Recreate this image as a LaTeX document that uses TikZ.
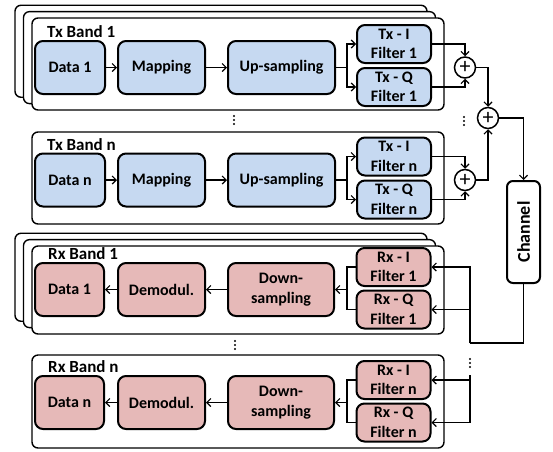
\documentclass[tikz,border=0pt]{standalone}
\usepackage{fontspec}
\setmainfont{Carlito}
\usetikzlibrary{arrows.meta}

\definecolor{txblue}{RGB}{198,217,241}
\definecolor{rxred}{RGB}{230,185,184}

\begin{document}
\begin{tikzpicture}[x=1pt, y=-1pt,
	font=\bfseries\fontsize{16}{19.5}\selectfont,
	>={Straight Barb[length=4pt,width=8pt]},
	band/.style={draw, line width=1.4pt, rounded corners=6pt, fill=white},
	block/.style={draw, line width=2pt, rounded corners=8pt, minimum height=53pt, align=center, inner sep=0pt},
	txblock/.style={block, fill=txblue},
	rxblock/.style={block, fill=rxred},
	filterbox/.style={minimum width=74pt, minimum height=38pt},
	sumnode/.style={draw, circle, line width=1.5pt, minimum size=21pt, inner sep=0pt, fill=white,
		font=\mdseries\fontsize{22}{22}\selectfont},
	link/.style={line width=1.2pt}]
\useasboundingbox (0,0) rectangle (553,451);

% stacked copies behind band 1
\foreach \s in {17,8.5}{
	\draw[band] (32-\s,18-\s*0.75) rectangle (444-\s,110-\s*0.75);
	\draw[band] (32-\s,246-\s*0.75) rectangle (444-\s,334-\s*0.75);
}

% transmitter bands
\foreach \b/\t/\c/\l in {1/18/67.5/37, n/132/180/150}{
	\draw[band] (32,\t) rectangle (444,\t+92);
	\node[anchor=base west, inner sep=0pt, font=\bfseries\fontsize{17}{19}\selectfont] (txlabel\b) at (47,\l) {Tx Band \b};
	\node[txblock, minimum width=70pt] (txdata\b) at (70,\c) {Data \b};
	\node[txblock, minimum width=87pt] (txmap\b) at (161.5,\c) {Mapping};
	\node[txblock, minimum width=107pt] (txup\b) at (281.5,\c) {Up-sampling};
	\node[txblock, filterbox] (txi\b) at (394,\c-23.5) {Tx - I\\Filter \b};
	\node[txblock, filterbox] (txq\b) at (394,\c+19.5) {Tx - Q\\Filter \b};
	\node[sumnode] (sum\b) at (465,\c) {+};
	\coordinate (txsplit\b) at ([xshift=11pt]txup\b.east);
	\draw[link, arrows = ->] (txdata\b) -- (txmap\b);
	\draw[link, arrows = ->] (txmap\b) -- (txup\b);
	\draw[link] (txup\b) -- (txsplit\b);
	\draw[link, arrows = ->] (txsplit\b) |- (txi\b);
	\draw[link, arrows = ->] (txsplit\b) |- (txq\b);
	\draw[link, arrows = ->] (txi\b) -| (sum\b);
	\draw[link, arrows = ->] (txq\b) -| (sum\b);
}

% receiver bands
\foreach \b/\t/\h/\c/\l in {1/246/88/289.5/259, n/355/93/402.5/372}{
	\draw[band] (32,\t) rectangle (444,\t+\h);
	\node[anchor=base west, inner sep=0pt, font=\bfseries\fontsize{17}{19}\selectfont] (rxlabel\b) at (48,\l) {Rx Band \b};
	\node[rxblock, minimum width=69pt] (rxdata\b) at (69.5,\c) {Data \b};
	\node[rxblock, minimum width=87pt] (rxdemod\b) at (161.5,\c) {Demodul.};
	\node[rxblock, minimum width=106pt] (rxdown\b) at (281,\c) {Down-\\sampling};
	\node[rxblock, filterbox] (rxi\b) at (393.5,\c-22.5) {Rx - I\\Filter \b};
	\node[rxblock, filterbox] (rxq\b) at (393.5,\c+20) {Rx - Q\\Filter \b};
	\coordinate (rxjoin\b) at ([xshift=12pt]rxdown\b.east);
	\draw[link, arrows = ->] (rxdemod\b) -- (rxdata\b);
	\draw[link, arrows = ->] (rxdown\b) -- (rxdemod\b);
	\draw[link] (rxi\b) -| (rxjoin\b) |- (rxq\b);
	\draw[link, arrows = ->] (rxjoin\b) -- (rxdown\b);
}

% summing and channel
\node[sumnode] (sum2) at (488,118) {+};
\node[draw, line width=2pt, rounded corners=6pt, fill=white, minimum width=33pt, minimum height=102pt, inner sep=0pt,
	font=\bfseries\fontsize{18}{20}\selectfont] (channel) at (523.5,232) {\rotatebox{90}{Channel}};
\draw[link, arrows = ->] (sum1) -| (sum2);
\draw[link, arrows = ->] (sumn) -| (sum2);
\draw[link, arrows = ->] (sum2) -| (channel);

% receive bus
\coordinate (rxbus1) at (470,343);
\coordinate (rxbusn) at (470,375);
\draw[link] (channel) |- (rxbus1);
\draw[link, arrows = ->] (rxbus1) |- (rxi1);
\draw[link, arrows = ->] (rxbus1) |- (rxq1);
\draw[link, arrows = ->] (rxbusn) |- (rxin);
\draw[link, arrows = ->] (rxbusn) |- (rxqn);

% vertical dots
\foreach \x/\y in {234/120, 464/121, 235/345, 470/363}{
	\foreach \k in {-4,0,4}{
		\fill (\x,\y+\k) circle (1.2pt);
	}
}
\end{tikzpicture}
\end{document}
